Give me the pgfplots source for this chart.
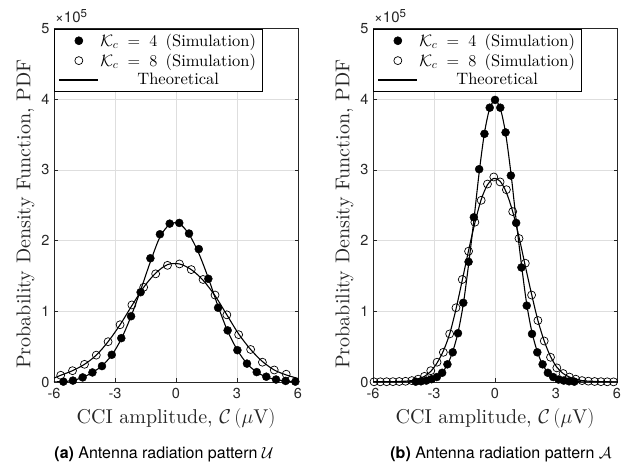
\RequirePackage{fix-cm}
\documentclass[border=0pt]{standalone}
\usepackage{pgfplots}
\pgfplotsset{compat=1.18}
\usepackage{fontspec}
\setmainfont{lmroman10-regular}[Extension=.otf, BoldFont=lmroman10-bold, ItalicFont=lmroman10-italic, BoldItalicFont=lmroman10-bolditalic]
\newfontfamily\heros{TeX Gyre Heros}
\definecolor{axgray}{gray}{0.15}
\begin{document}
\begin{tikzpicture}
\path[use as bounding box] (-54bp,-90bp) rectangle (577bp,382bp);
\pgfplotsset{
 myaxis/.style={
  scale only axis, width=244bp, height=353.5bp,
  xmin=-6, xmax=6, ymin=0, ymax=5,
  xtick={-6,-3,0,3,6}, xticklabels={-6,-3,0,3,6},
  ytick={0,1,2,3,4,5}, yticklabels={0,1,2,3,4,5},
  tick label style={font=\heros\fontsize{14.5bp}{17bp}\selectfont, text=axgray},
  xticklabel style={yshift=-3bp},
  yticklabel style={xshift=-1bp},
  tick align=inside, major tick length=3.5bp,
  tick style={axgray, line width=0.6bp},
  grid=major, grid style={black!13, line width=0.7bp},
  axis line style={axgray, line width=0.8bp},
  xlabel={CCI amplitude, $\mathcal{C}\,(\mu\mathrm{V})$},
  ylabel={Probability Density Function, PDF},
  label style={font=\fontsize{20bp}{23bp}\selectfont, text=axgray},
  xlabel style={yshift=-3bp},
  ylabel style={at={(ticklabel cs:0.475)}},
  legend style={at={(0,1)}, anchor=north west, draw=black, fill=white, line width=0.6bp,
    font=\fontsize{16.5bp}{19bp}\selectfont, row sep=0bp, inner xsep=4.5bp, inner ysep=2bp,
    nodes={inner xsep=1.5bp, inner ysep=3bp, text depth=0.15em}},
  legend cell align=center,
  clip=true,
 },
 simA/.style={only marks, mark=*, mark size=4bp, black,
   legend image code/.code={\path[draw=none,fill=none] (0bp,0bp) rectangle (39bp,0.1bp); \fill[black] (19.5bp,0bp) circle (4bp);}},
 simB/.style={only marks, mark=o, mark size=4bp, black, mark options={line width=0.7bp},
   legend image code/.code={\path[draw=none,fill=none] (0bp,0bp) rectangle (39bp,0.1bp); \draw[black, line width=0.7bp] (19.5bp,0bp) circle (4bp);}},
 theo/.style={black, line width=1.1bp, smooth, no marks,
   legend image code/.code={\draw[black, line width=1.1bp] (0bp,0bp) -- (39bp,0bp);}},
}
% ---------------- left panel ----------------
\begin{axis}[myaxis, name=left]
\addplot[simA] coordinates {
(-5.54,0.005) (-5.07,0.02) (-4.59,0.065) (-4.11,0.135) (-3.64,0.225) (-3.16,0.385)
(-2.69,0.62) (-2.21,0.93) (-1.74,1.27) (-1.26,1.75) (-0.79,2.09) (-0.31,2.24)
(0.16,2.25) (0.64,2.10) (1.12,1.88) (1.59,1.46) (2.07,1.05) (2.54,0.73)
(3.02,0.45) (3.49,0.26) (3.97,0.14) (4.44,0.075) (4.92,0.035) (5.39,0.015) (5.87,0.005)};
\addlegendentry{$\mathcal{K}_c\;=\;4$\, (Simulation)}
\addplot[simB] coordinates {
(-5.67,0.095) (-5.09,0.16) (-4.50,0.25) (-3.92,0.38) (-3.34,0.57) (-2.75,0.81)
(-2.17,1.09) (-1.59,1.34) (-1.00,1.53) (-0.42,1.65) (0.17,1.67) (0.75,1.59)
(1.33,1.45) (1.92,1.23) (2.50,0.95) (3.08,0.67) (3.67,0.46) (4.25,0.28)
(4.83,0.17) (5.42,0.11)};
\addlegendentry{$\mathcal{K}_c\;=\;8$\, (Simulation)}
\addplot[theo] coordinates {
(-6,0.002) (-5.54,0.006) (-5.07,0.022) (-4.59,0.065) (-4.11,0.135) (-3.64,0.23) (-3.16,0.38)
(-2.69,0.61) (-2.21,0.93) (-1.74,1.30) (-1.26,1.70) (-0.79,2.05) (-0.31,2.23)
(0.16,2.24) (0.64,2.09) (1.12,1.82) (1.59,1.47) (2.07,1.07) (2.54,0.72)
(3.02,0.45) (3.49,0.26) (3.97,0.14) (4.44,0.072) (4.92,0.034) (5.39,0.014) (5.87,0.005) (6,0.004)};
\addlegendentry{Theoretical}
\addplot[theo, forget plot] coordinates {
(-6,0.055) (-5.67,0.095) (-5.09,0.16) (-4.50,0.25) (-3.92,0.38) (-3.34,0.57) (-2.75,0.81)
(-2.17,1.08) (-1.59,1.34) (-1.00,1.54) (-0.42,1.66) (0.17,1.67) (0.75,1.59)
(1.33,1.44) (1.92,1.22) (2.50,0.95) (3.08,0.68) (3.67,0.46) (4.25,0.29)
(4.83,0.17) (5.42,0.10) (6,0.05)};
\end{axis}
\node[anchor=base west, inner sep=0, font=\heros\fontsize{15bp}{17bp}\selectfont, text=axgray] at (1bp,359bp) {×10\raisebox{5.5bp}{\fontsize{11.5bp}{12bp}\selectfont 5}};
% ---------------- right panel ----------------
\begin{axis}[myaxis, name=right, at={(319bp,0bp)}]
\addplot[simA] coordinates {
(-3.90,0.005) (-3.64,0.01) (-3.38,0.02) (-3.12,0.04) (-2.86,0.07) (-2.60,0.13) (-2.34,0.25)
(-2.08,0.42) (-1.82,0.69) (-1.56,1.12) (-1.30,1.70) (-1.04,2.33) (-0.78,3.01)
(-0.52,3.51) (-0.26,3.88) (0,3.99) (0.26,3.88) (0.52,3.53) (0.78,2.92)
(1.04,2.25) (1.30,1.62) (1.56,1.08) (1.82,0.68) (2.08,0.42) (2.34,0.25)
(2.60,0.13) (2.86,0.07) (3.12,0.035) (3.38,0.02) (3.64,0.01) (3.90,0.005)};
\addlegendentry{$\mathcal{K}_c\;=\;4$\, (Simulation)}
\addplot[simB] coordinates {
(-5.95,0.003) (-5.64,0.003) (-5.33,0.004) (-5.02,0.005) (-4.71,0.007) (-4.40,0.01)
(-4.09,0.02) (-3.78,0.04) (-3.47,0.08) (-3.16,0.16) (-2.85,0.28) (-2.54,0.42)
(-2.23,0.68) (-1.92,1.05) (-1.61,1.45) (-1.30,1.85) (-0.99,2.26) (-0.68,2.57)
(-0.37,2.80) (-0.06,2.90) (0.25,2.83) (0.56,2.72) (0.87,2.41) (1.18,2.03)
(1.49,1.68) (1.80,1.23) (2.11,0.87) (2.42,0.58) (2.73,0.35) (3.04,0.20)
(3.35,0.12) (3.66,0.07) (3.97,0.04) (4.28,0.02) (4.59,0.012) (4.90,0.007)
(5.21,0.005) (5.52,0.003) (5.83,0.002)};
\addlegendentry{$\mathcal{K}_c\;=\;8$\, (Simulation)}
\addplot[theo] coordinates {
(-6,0.0005) (-5,0.001) (-4.4,0.002) (-3.90,0.005) (-3.64,0.01) (-3.38,0.02) (-3.12,0.04)
(-2.86,0.075) (-2.60,0.135) (-2.34,0.245) (-2.08,0.43) (-1.82,0.70) (-1.56,1.10)
(-1.30,1.66) (-1.04,2.29) (-0.78,2.96) (-0.52,3.52) (-0.26,3.87) (0,3.98)
(0.26,3.87) (0.52,3.52) (0.78,2.96) (1.04,2.29) (1.30,1.66) (1.56,1.10)
(1.82,0.70) (2.08,0.43) (2.34,0.245) (2.60,0.135) (2.86,0.075) (3.12,0.04)
(3.38,0.02) (3.64,0.01) (3.90,0.005) (4.4,0.002) (5,0.001) (6,0.0005)};
\addlegendentry{Theoretical}
\addplot[theo, forget plot] coordinates {
(-6,0.003) (-5.64,0.003) (-5.33,0.004) (-5.02,0.005) (-4.71,0.007) (-4.40,0.011)
(-4.09,0.02) (-3.78,0.04) (-3.47,0.08) (-3.16,0.15) (-2.85,0.27) (-2.54,0.44)
(-2.23,0.68) (-1.92,1.03) (-1.61,1.44) (-1.30,1.86) (-0.99,2.25) (-0.68,2.58)
(-0.37,2.79) (-0.06,2.88) (0.25,2.84) (0.56,2.68) (0.87,2.41) (1.18,2.05)
(1.49,1.64) (1.80,1.24) (2.11,0.87) (2.42,0.58) (2.73,0.36) (3.04,0.21)
(3.35,0.12) (3.66,0.07) (3.97,0.04) (4.28,0.02) (4.59,0.012) (4.90,0.007)
(5.21,0.005) (5.52,0.003) (6,0.002)};
\end{axis}
\node[anchor=base west, inner sep=0, font=\heros\fontsize{15bp}{17bp}\selectfont, text=axgray] at (320bp,359bp) {×10\raisebox{5.5bp}{\fontsize{11.5bp}{12bp}\selectfont 5}};
% captions
\node[anchor=base, inner sep=0, font=\heros\fontsize{16bp}{18bp}\selectfont] at (110bp,-76bp) {\textbf{(a)} Antenna radiation pattern $\mathcal{U}$};
\node[anchor=base, inner sep=0, font=\heros\fontsize{16bp}{18bp}\selectfont] at (447bp,-76bp) {\textbf{(b)} Antenna radiation pattern $\mathcal{A}$};
\end{tikzpicture}
\end{document}
